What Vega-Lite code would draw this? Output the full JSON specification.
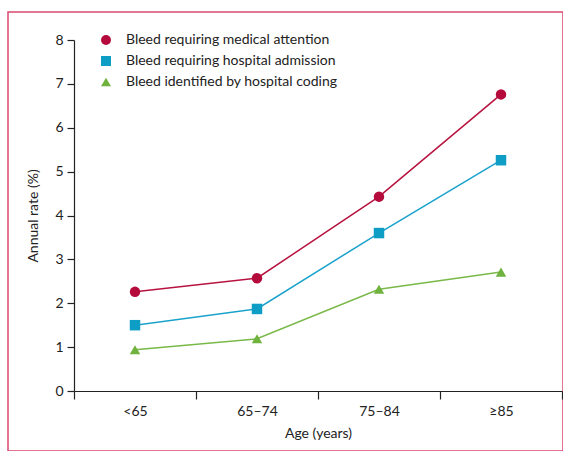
{
  "$schema": "https://vega.github.io/schema/vega-lite/v6.json",
  "autosize": "none",
  "padding": {"left": 8, "top": 12, "right": 0, "bottom": 0},
  "width": 555,
  "height": 439,
  "config": {
    "font": "Lato",
    "view": {"stroke": "#d9486f", "strokeWidth": 1.5},
    "axis": {"labelFont": "Lato", "titleFont": "Lato", "labelFontSize": 14, "titleFontSize": 14, "titleFontWeight": "normal", "labelColor": "#222", "titleColor": "#222", "domainColor": "#222", "tickColor": "#222", "domainWidth": 1.2, "tickWidth": 1.2, "grid": false},
    "legend": {"labelFont": "Lato", "labelFontSize": 14, "labelColor": "#222", "labelLimit": 400}
  },
  "data": {"values": [
    {"age": "<65", "series": "Bleed requiring medical attention", "rate": 2.26},
    {"age": "65–74", "series": "Bleed requiring medical attention", "rate": 2.57},
    {"age": "75–84", "series": "Bleed requiring medical attention", "rate": 4.43},
    {"age": "≥85", "series": "Bleed requiring medical attention", "rate": 6.76},
    {"age": "<65", "series": "Bleed requiring hospital admission", "rate": 1.5},
    {"age": "65–74", "series": "Bleed requiring hospital admission", "rate": 1.87},
    {"age": "75–84", "series": "Bleed requiring hospital admission", "rate": 3.6},
    {"age": "≥85", "series": "Bleed requiring hospital admission", "rate": 5.26},
    {"age": "<65", "series": "Bleed identified by hospital coding", "rate": 0.94},
    {"age": "65–74", "series": "Bleed identified by hospital coding", "rate": 1.19},
    {"age": "75–84", "series": "Bleed identified by hospital coding", "rate": 2.32},
    {"age": "≥85", "series": "Bleed identified by hospital coding", "rate": 2.71}
  ]},
  "encoding": {
    "x": {"field": "age", "type": "nominal", "sort": ["<65", "65–74", "75–84", "≥85"],
      "scale": {"range": [66, 554], "paddingInner": 0, "paddingOuter": 0},
      "axis": {"title": "Age (years)", "labelAngle": 0, "offset": -60, "tickBand": "extent", "tickSize": 8, "labelPadding": 5, "titlePadding": 8}},
    "y": {"field": "rate", "type": "quantitative",
      "scale": {"domain": [0, 8], "range": [379, 28], "nice": false},
      "axis": {"title": "Annual rate (%)", "values": [0,1,2,3,4,5,6,7,8], "offset": -66, "tickSize": 7, "labelPadding": 4, "titlePadding": 14}}
  },
  "layer": [
    {
      "mark": {"type": "line", "strokeWidth": 1.5},
      "encoding": {
        "stroke": {"field": "series", "type": "nominal", "legend": null,
          "scale": {"domain": ["Bleed identified by hospital coding", "Bleed requiring hospital admission", "Bleed requiring medical attention"], "range": ["#79b948", "#19a2cc", "#b8123f"]}},
        "detail": {"field": "series"}
      }
    },
    {
      "mark": {"type": "point", "filled": true, "opacity": 1, "size": 110},
      "encoding": {
        "color": {"field": "series", "type": "nominal",
          "scale": {"domain": ["Bleed requiring medical attention", "Bleed requiring hospital admission", "Bleed identified by hospital coding"], "range": ["#b40b3c", "#0e9dc4", "#6fb23e"]},
          "legend": {"title": null, "orient": "none", "legendX": 91, "legendY": 21, "padding": 0, "rowPadding": 7, "symbolSize": 100, "labelOffset": 13}},
        "shape": {"field": "series", "type": "nominal",
          "scale": {"domain": ["Bleed requiring medical attention", "Bleed requiring hospital admission", "Bleed identified by hospital coding"], "range": ["circle", "square", "triangle-up"]},
          "legend": {"title": null, "orient": "none", "legendX": 91, "legendY": 21, "padding": 0, "rowPadding": 7, "symbolSize": 100, "labelOffset": 13}}
      }
    }
  ]
}
